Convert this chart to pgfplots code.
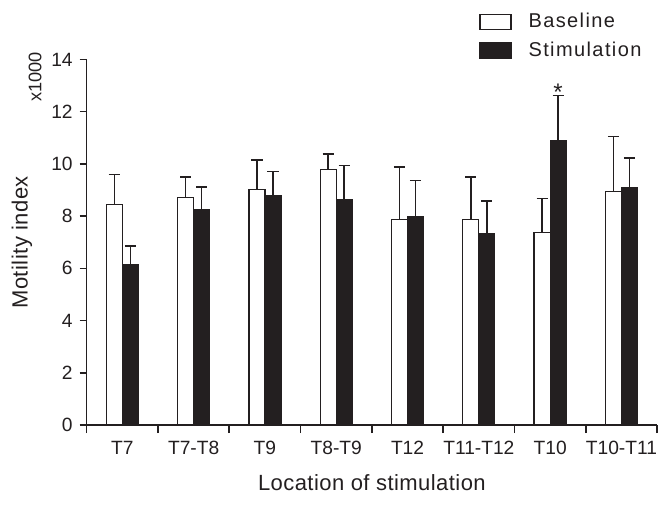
\documentclass[border=0pt]{standalone}
\usepackage{pgfplots}
\usepackage{pgfplotstable}
\pgfplotsset{compat=1.18}
\usepackage{fontspec}
\setmainfont{Liberation Sans}
\newfontfamily\labfont{Liberation Sans}[LetterSpace=2]
\newfontfamily\legfont{Liberation Sans}[LetterSpace=7]
\definecolor{barblack}{HTML}{231F20}
\definecolor{inkk}{HTML}{231F20}

\pgfplotstableread{
x b be s se
1 8.45 1.15 6.15 0.70
2 8.71 0.78 8.23 0.89
3 9.03 1.11 8.79 0.91
4 9.77 0.61 8.65 1.29
5 7.87 2.00 7.97 1.40
6 7.86 1.64 7.33 1.24
7 7.37 1.30 10.90 1.72
8 8.95 2.10 9.09 1.14
}\datatable

\begin{document}
\begin{tikzpicture}
\path[use as bounding box] (-43.35pt,-39.5pt) rectangle (291.65pt,212.5pt);
\begin{axis}[
  at={(0,0)}, anchor=south west,
  scale only axis, width=285.2pt, height=182.8pt,
  xmin=0.5, xmax=8.5, ymin=0, ymax=14,
  axis x line=bottom, axis y line=left,
  axis line style={-, line width=0.8pt, inkk},
  ytick={0,2,...,14},
  xtick={1,...,8},
  xticklabels={T7,T7-T8,T9,T8-T9,T12,T11-T12,T10,T10-T11},
  minor xtick={0.5,1.5,...,8.5},
  major x tick style={draw=none},
  tick align=outside,
  major tick length=3.5pt, minor tick length=4pt,
  tick style={line width=0.8pt, inkk},
  /pgf/number format/assume math mode=true,
  ticklabel style={font=\fontsize{9.6}{11}\selectfont, text=inkk},
  xticklabel style={anchor=base, yshift=-11pt},
  every axis x label/.style={at={(axis description cs:0.5,0)}, anchor=base, yshift=-32.5pt, font=\labfont\fontsize{11}{13}\selectfont, text=inkk},
  every axis y label/.style={at={([xshift=-27pt]axis description cs:0,0.5)}, rotate=90, anchor=south, inner sep=0pt, font=\labfont\fontsize{11}{13}\selectfont, text=inkk},
  xlabel={Location of stimulation},
  ylabel={Motility index},
  ybar=0pt, bar width=0.225,
  legend style={draw=none, fill=none, at={(axis description cs:0.688,1)}, anchor=north west, yshift=23.15pt, inner sep=0pt, outer sep=0pt, row sep=5.5pt, nodes={inner sep=0pt, anchor=west}, font=\legfont\fontsize{10}{12}\selectfont, text=inkk, /tikz/every odd column/.append style={column sep=8.5pt}},
  legend cell align=left,
  clip=false,
]
\addplot[fill=white, draw=inkk, line width=0.6pt,
  legend image code/.code={\draw[fill=white, draw=inkk, line width=0.7pt] (0pt,-3.75pt) rectangle (15.5pt,3.75pt);},
  error bars/.cd, y dir=plus, y explicit,
  error bar style={line width=0.8pt, inkk},
  error mark options={rotate=90, mark size=2.8pt, line width=0.8pt, inkk}]
  table[x=x, y=b, y error=be] {\datatable};
\addlegendentry{Baseline}
\addplot[fill=barblack, draw=inkk, line width=0.6pt,
  legend image code/.code={\draw[fill=barblack, draw=inkk, line width=0.7pt] (0pt,-3.75pt) rectangle (15.5pt,3.75pt);},
  error bars/.cd, y dir=plus, y explicit,
  error bar style={line width=0.8pt, inkk},
  error mark options={rotate=90, mark size=2.8pt, line width=0.8pt, inkk}]
  table[x=x, y=s, y error=se] {\datatable};
\addlegendentry{Stimulation}
\node[anchor=base, inner sep=0pt, font=\fontsize{12}{14}\selectfont, text=inkk] at (axis cs:7.1125,12.43) {*};
\node[anchor=south, rotate=90, inner sep=0pt, font=\fontsize{9.1}{11}\selectfont, text=inkk] at ([xshift=-22.35pt]axis description cs:0,0.9516) {x1000};
\end{axis}
\end{tikzpicture}
\end{document}
